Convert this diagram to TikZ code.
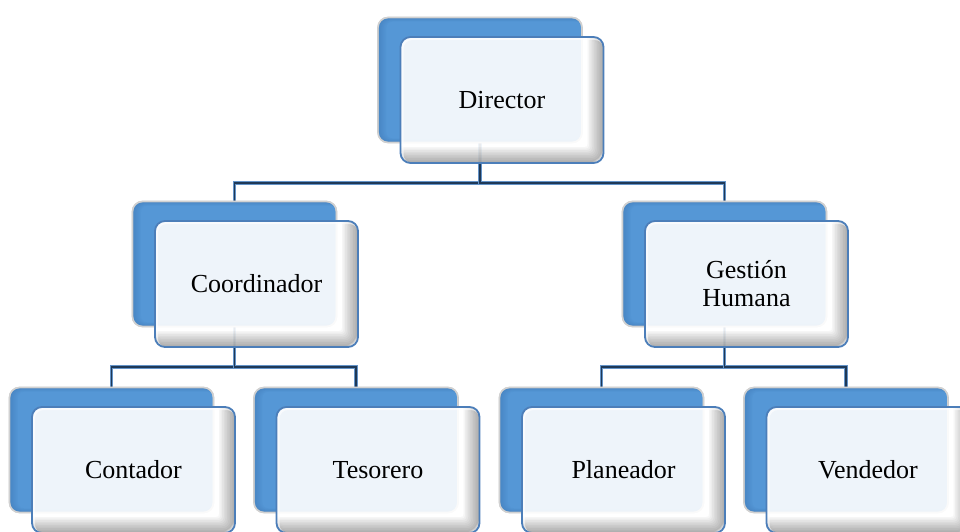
\documentclass[tikz,border=0pt]{standalone}
\usepackage{fontspec}
\setmainfont{Liberation Serif}
\usetikzlibrary{calc}

\definecolor{bbBot}{HTML}{4585C6}
\definecolor{bbMid}{HTML}{5597D6}
\definecolor{bbHi}{HTML}{7CB4E8}
\definecolor{bbTop}{HTML}{B0D4F4}
\definecolor{bbEdge}{HTML}{3A73B0}
\definecolor{frontLine}{HTML}{4C7EB9}
\definecolor{busOuter}{HTML}{6393C8}
\definecolor{busCore}{HTML}{1F3957}

% vertical blue gradient of the rear tiles (bottom to top)
\pgfdeclareverticalshading{bluebar}{100bp}{color(0bp)=(bbBot); color(15bp)=(bbMid); color(86bp)=(bbMid); color(93bp)=(bbHi); color(97bp)=(bbTop); color(100bp)=(bbHi)}

\pgfdeclarelayer{bg}
\pgfsetlayers{bg,main}

\tikzset{
  backbox/.style={rectangle, rounded corners=10pt, minimum width=204pt, minimum height=125pt,
    inner sep=0pt, outer sep=0pt, shading=bluebar, draw=black!20, line width=1.6pt},
  frontbox/.style={rectangle, rounded corners=10pt, minimum width=203pt, minimum height=126pt,
    inner sep=0pt, outer sep=0pt, fill=white, fill opacity=0.9, text opacity=1,
    align=center, font=\rmfamily\fontsize{26}{28}\selectfont},
  frontedge/.style={draw=frontLine, line width=1.8pt, rounded corners=10pt},
  bevel/.style={draw=black, rounded corners=10pt},
  conn/.style={draw=busCore, line width=1.4pt, preaction={draw=busOuter, line width=3.2pt}},
}

% one org-chart unit: blue rear tile (name b) and a pale front tile (name) with its label
\newcommand{\orgunit}[4]{%
  \node[backbox] (#1b) at (#2-22,#3-20) {};
  % darker left rim of the rear tile
  \begin{scope}
    \clip[rounded corners=10pt] (#1b.south west) rectangle (#1b.north east);
    \foreach \k in {1,...,6}{
      \draw[draw=bbEdge, line width=\k*1.4pt, opacity=.08, rounded corners=10pt]
        ($(#1b.south west)+(0.7*\k,0)$) rectangle ($(#1b.north east)+(0.7*\k,0)$);
    }
  \end{scope}
  \draw[draw=black!18, line width=1.4pt, rounded corners=10pt] (#1b.south west) rectangle (#1b.north east);
  \node[frontbox] (#1) at (#2,#3) {#4};
  % soft inner shading along the right and lower edges of the front tile
  \begin{scope}
    \clip[rounded corners=10pt] (#1.south west) rectangle (#1.north east);
    \foreach \k in {1,...,10}{
      \draw[bevel, line width=\k*1.6pt, opacity=.035]
        ($(#1.south west)+(-0.8*\k,-0.8*\k)$) rectangle ($(#1.north east)+(-0.8*\k,-0.8*\k)$);
    }
    \draw[draw=white, line width=3pt, opacity=.6, rounded corners=10pt]
      ($(#1.south west)+(1.5,1.5)$) rectangle ($(#1.north east)+(1.5,1.5)$);
  \end{scope}
  \draw[frontedge] (#1.south west) rectangle (#1.north east);
}

\begin{document}
\begin{tikzpicture}[x=1pt,y=-1pt]
  \useasboundingbox (0,0) rectangle (960,532);

  \orgunit{dir}{502}{100}{Director}
  \orgunit{coo}{256.5}{284}{Coordinador}
  \orgunit{ges}{746.5}{284}{Gestión\\Humana}
  \orgunit{con}{133.5}{470}{Contador}
  \orgunit{tes}{378}{470}{Tesorero}
  \orgunit{pla}{623.5}{470}{Planeador}
  \orgunit{ven}{868}{470}{Vendedor}

  \begin{pgfonlayer}{bg}
    \draw[conn] (dirb.south) -- ++(0,40.5) -| (coob.north);
    \draw[conn] (dirb.south) -- ++(0,40.5) -| (gesb.north);
    \draw[conn] (coob.south) -- ++(0,40.5) -| (conb.north);
    \draw[conn] (coob.south) -- ++(0,40.5) -| (tesb.north);
    \draw[conn] (gesb.south) -- ++(0,40.5) -| (plab.north);
    \draw[conn] (gesb.south) -- ++(0,40.5) -| (venb.north);
  \end{pgfonlayer}
\end{tikzpicture}
\end{document}
